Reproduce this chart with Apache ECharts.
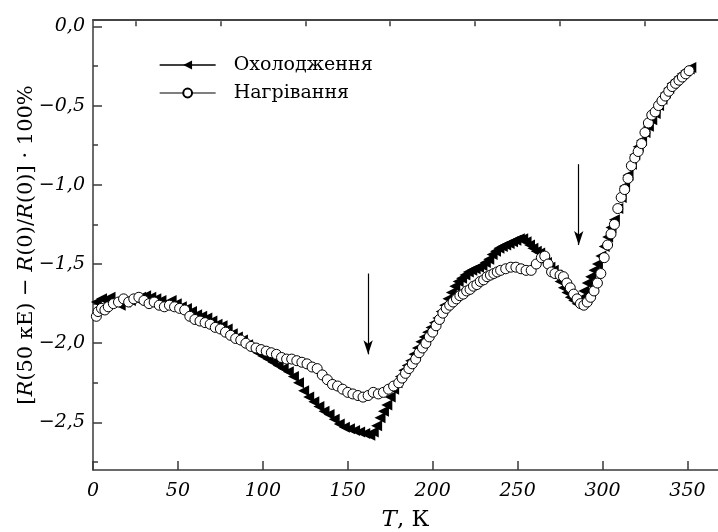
<!DOCTYPE html>
<html>
<head>
<meta charset="utf-8">
<script src="https://cdn.jsdelivr.net/npm/echarts@6/dist/echarts.min.js"></script>
<style>
  html, body { margin: 0; padding: 0; background: #fff; }
  #chart { width: 718px; height: 532px; }
</style>
</head>
<body>
<div id="chart"></div>
<script>
// Relative magnetoresistance vs temperature, [T (K), value (%)]
const cooling = [
  [2,-1.74],[5,-1.72],[8,-1.73],[10,-1.71],[13,-1.74],[16,-1.76],[19,-1.74],[22,-1.73],[25,-1.72],[28,-1.71],
  [31,-1.70],[34,-1.71],[37,-1.72],[40,-1.73],[43,-1.75],[46,-1.73],[49,-1.75],[52,-1.77],[55,-1.78],[58,-1.80],
  [61,-1.82],[64,-1.83],[67,-1.84],[70,-1.86],[73,-1.88],[76,-1.89],[79,-1.91],[82,-1.94],[85,-1.96],[88,-1.98],
  [91,-2.01],[94,-2.04],[97,-2.06],[100,-2.08],[103,-2.10],[106,-2.12],[109,-2.14],[112,-2.16],[115,-2.18],[118,-2.21],
  [121,-2.25],[124,-2.30],[127,-2.34],[130,-2.37],[133,-2.40],[136,-2.43],[139,-2.45],[142,-2.48],[145,-2.51],[148,-2.53],
  [151,-2.54],[154,-2.55],[157,-2.56],[160,-2.57],[163,-2.58],[165,-2.56],[167,-2.52],[169,-2.47],[171,-2.43],[173,-2.39],
  [175,-2.34],[177,-2.29],[179,-2.25],[181,-2.21],[183,-2.17],[185,-2.14],[187,-2.11],[189,-2.07],[191,-2.03],[193,-1.99],
  [195,-1.96],[197,-1.93],[199,-1.90],[201,-1.87],[203,-1.84],[205,-1.80],[207,-1.76],[209,-1.72],[211,-1.68],[213,-1.64],
  [215,-1.61],[217,-1.59],[219,-1.57],[221,-1.55],[223,-1.54],[225,-1.53],[227,-1.52],[229,-1.51],[231,-1.49],[233,-1.47],
  [235,-1.44],[237,-1.42],[239,-1.40],[241,-1.39],[243,-1.38],[245,-1.37],[247,-1.36],[249,-1.35],[251,-1.34],[253,-1.34],
  [255,-1.36],[257,-1.38],[259,-1.40],[261,-1.42],[263,-1.43],[265,-1.46],[267,-1.49],[269,-1.52],[271,-1.54],[273,-1.57],
  [275,-1.61],[277,-1.65],[279,-1.68],[281,-1.71],[283,-1.73],[285,-1.75],[287,-1.72],[289,-1.67],[291,-1.62],[293,-1.58],
  [295,-1.54],[297,-1.50],[299,-1.45],[301,-1.39],[303,-1.33],[305,-1.27],[307,-1.22],[309,-1.15],[311,-1.08],[313,-1.01],
  [315,-0.94],[317,-0.87],[319,-0.81],[321,-0.76],[323,-0.72],[325,-0.67],[327,-0.63],[329,-0.59],[331,-0.55],[333,-0.50],
  [335,-0.46],[337,-0.42],[339,-0.39],[341,-0.36],[343,-0.34],[345,-0.32],[347,-0.30],[349,-0.28],[351,-0.27],[352,-0.26]
];

const heating = [
  [2,-1.83],[3,-1.80],[5,-1.78],[7,-1.79],[9,-1.77],[12,-1.75],[15,-1.74],[18,-1.72],[21,-1.74],[24,-1.72],
  [27,-1.71],[30,-1.73],[33,-1.75],[36,-1.74],[39,-1.76],[42,-1.77],[45,-1.76],[48,-1.77],[51,-1.78],[54,-1.79],
  [57,-1.83],[60,-1.85],[63,-1.86],[66,-1.87],[69,-1.88],[72,-1.90],[75,-1.91],[78,-1.93],[81,-1.95],[84,-1.97],
  [87,-1.98],[90,-2.00],[93,-2.02],[96,-2.03],[99,-2.04],[102,-2.05],[105,-2.06],[108,-2.07],[111,-2.09],[114,-2.10],
  [117,-2.10],[120,-2.11],[123,-2.12],[126,-2.13],[129,-2.15],[132,-2.16],[135,-2.20],[138,-2.23],[141,-2.26],[144,-2.27],
  [147,-2.29],[150,-2.31],[153,-2.32],[156,-2.33],[159,-2.34],[162,-2.33],[165,-2.31],[168,-2.32],[171,-2.31],[174,-2.29],
  [177,-2.27],[180,-2.25],[182,-2.22],[184,-2.19],[186,-2.16],[188,-2.13],[190,-2.10],[192,-2.06],[194,-2.03],[196,-2.00],
  [198,-1.96],[200,-1.93],[202,-1.89],[204,-1.85],[206,-1.81],[208,-1.78],[210,-1.76],[212,-1.74],[214,-1.72],[216,-1.70],
  [218,-1.69],[220,-1.67],[222,-1.66],[224,-1.64],[226,-1.63],[228,-1.61],[230,-1.60],[232,-1.58],[234,-1.57],[236,-1.56],
  [238,-1.55],[240,-1.54],[243,-1.53],[246,-1.52],[249,-1.52],[252,-1.53],[255,-1.54],[258,-1.54],[261,-1.50],[264,-1.46],
  [266,-1.45],[268,-1.50],[270,-1.55],[272,-1.56],[275,-1.57],[277,-1.58],[279,-1.62],[281,-1.65],[283,-1.69],[285,-1.72],
  [287,-1.75],[289,-1.76],[291,-1.74],[293,-1.71],[295,-1.67],[297,-1.62],[299,-1.56],[301,-1.46],[303,-1.38],[305,-1.31],
  [307,-1.25],[309,-1.15],[311,-1.08],[313,-1.03],[315,-0.96],[317,-0.88],[319,-0.83],[321,-0.79],[323,-0.74],[325,-0.67],
  [327,-0.61],[329,-0.56],[331,-0.54],[333,-0.50],[335,-0.47],[337,-0.44],[339,-0.41],[341,-0.38],[343,-0.36],[345,-0.34],
  [347,-0.32],[349,-0.30],[351,-0.28]
];

const seriesNames = ['Охолодження', 'Нагрівання'];

// Axis ticks and labels
const xMajor = [0, 50, 100, 150, 200, 250, 300, 350];
const xMinor = [25, 75, 125, 175, 225, 275, 325];
const yMajor = [0, -0.5, -1.0, -1.5, -2.0, -2.5];
const yMinor = [-0.25, -0.75, -1.25, -1.75, -2.25, -2.75];
const xRange = [0, 368];
const yRange = [-2.8, 0.04];

// Vertical arrows marking the transitions: [T, start value, tip value]
const arrows = [
  [162, -1.56, -2.07],
  [286, -0.87, -1.38]
];

const SERIF = '"DejaVu Serif", "Liberation Serif", serif';
const AXIS_COLOR = '#3a3a3a';
const TEXT_COLOR = '#000';

function fmtY(v) {
  const s = Math.abs(v).toFixed(1).replace('.', ',');
  return (v < 0 ? '\u2212' : '') + s;
}

const chart = echarts.init(document.getElementById('chart'), null, { renderer: 'canvas' });

const baseX = {
  type: 'value', min: xRange[0], max: xRange[1], gridIndex: 0,
  splitLine: { show: false }
};
const baseY = {
  type: 'value', min: yRange[0], max: yRange[1], gridIndex: 0,
  splitLine: { show: false }
};

chart.setOption({
  animation: false,
  backgroundColor: '#fff',
  grid: {
    left: 93, right: 0, top: 20, bottom: 62,
    containLabel: false,
    outerBoundsMode: 'none'
  },
  legend: {
    orient: 'vertical',
    left: 159, top: 55,
    padding: 0,
    itemWidth: 56, itemHeight: 11, itemGap: 8,
    textStyle: { fontFamily: SERIF, fontSize: 19, color: TEXT_COLOR, lineHeight: 20, padding: [0, 0, 0, 13] },
    data: [
      { name: seriesNames[0], lineStyle: { width: 1.3, color: '#000' } },
      { name: seriesNames[1], lineStyle: { width: 1.3, color: '#555' } }
    ]
  },
  xAxis: [
    Object.assign({}, baseX, {
      position: 'bottom',
      name: '{i|T}, К', nameLocation: 'middle', nameGap: 39,
      nameMoveOverlap: false,
      nameTextStyle: {
        fontFamily: SERIF, fontSize: 23, color: TEXT_COLOR,
        rich: { i: { fontFamily: SERIF, fontSize: 23, fontStyle: 'italic', color: TEXT_COLOR } }
      },
      axisLine: { show: true, onZero: false, lineStyle: { color: AXIS_COLOR, width: 1.5 } },
      axisTick: { show: true, inside: true, length: 9, customValues: xMajor, lineStyle: { color: AXIS_COLOR, width: 1.5 } },
      axisLabel: {
        show: true, customValues: xMajor, margin: 12,
        fontFamily: SERIF, fontStyle: 'italic', fontSize: 19, color: TEXT_COLOR
      }
    }),
    Object.assign({}, baseX, {
      position: 'bottom',
      axisLine: { show: false },
      axisTick: { show: true, inside: true, length: 5, customValues: xMinor, lineStyle: { color: AXIS_COLOR, width: 1.5 } },
      axisLabel: { show: false }
    }),
    Object.assign({}, baseX, {
      position: 'top',
      axisLine: { show: true, onZero: false, lineStyle: { color: '#444', width: 2 } },
      axisTick: { show: false },
      axisLabel: { show: false }
    })
  ],
  yAxis: [
    Object.assign({}, baseY, {
      position: 'left',
      name: '[{i|R}(50 кЕ) \u2212 {i|R}(0)/{i|R}(0)] \u00b7 100%',
      nameLocation: 'middle', nameRotate: 90, nameGap: 56,
      nameMoveOverlap: false,
      nameTextStyle: {
        fontFamily: SERIF, fontSize: 21, color: TEXT_COLOR,
        rich: { i: { fontFamily: SERIF, fontSize: 21, fontStyle: 'italic', color: TEXT_COLOR } }
      },
      axisLine: { show: true, onZero: false, lineStyle: { color: AXIS_COLOR, width: 1.5 } },
      axisTick: { show: true, inside: true, length: 9, customValues: yMajor, lineStyle: { color: AXIS_COLOR, width: 1.5 } },
      axisLabel: {
        show: true, customValues: yMajor, margin: 8, formatter: fmtY,
        fontFamily: SERIF, fontStyle: 'italic', fontSize: 19, color: TEXT_COLOR
      }
    }),
    Object.assign({}, baseY, {
      position: 'left',
      axisLine: { show: false },
      axisTick: { show: true, inside: true, length: 5, customValues: yMinor, lineStyle: { color: AXIS_COLOR, width: 1.5 } },
      axisLabel: { show: false }
    })
  ],
  series: [
    {
      name: seriesNames[0],
      type: 'line',
      xAxisIndex: 0, yAxisIndex: 0,
      data: cooling,
      showSymbol: true,
      symbol: 'triangle',
      symbolRotate: 90,
      symbolSize: 11,
      lineStyle: { width: 0 },
      itemStyle: { color: '#000', borderWidth: 0 },
      z: 2
    },
    {
      name: seriesNames[1],
      type: 'line',
      xAxisIndex: 0, yAxisIndex: 0,
      data: heating,
      showSymbol: true,
      symbol: 'circle',
      symbolSize: 10,
      lineStyle: { width: 0 },
      itemStyle: { color: '#fff', borderColor: '#000', borderWidth: 1 },
      z: 3,
      markLine: {
        silent: true,
        symbol: ['none', 'arrow'],
        symbolSize: [7, 14],
        label: { show: false },
        lineStyle: { color: '#000', width: 1.2, type: 'solid' },
        data: arrows.map(a => [{ coord: [a[0], a[1]] }, { coord: [a[0], a[2]] }])
      }
    }
  ]
});
</script>
</body>
</html>
